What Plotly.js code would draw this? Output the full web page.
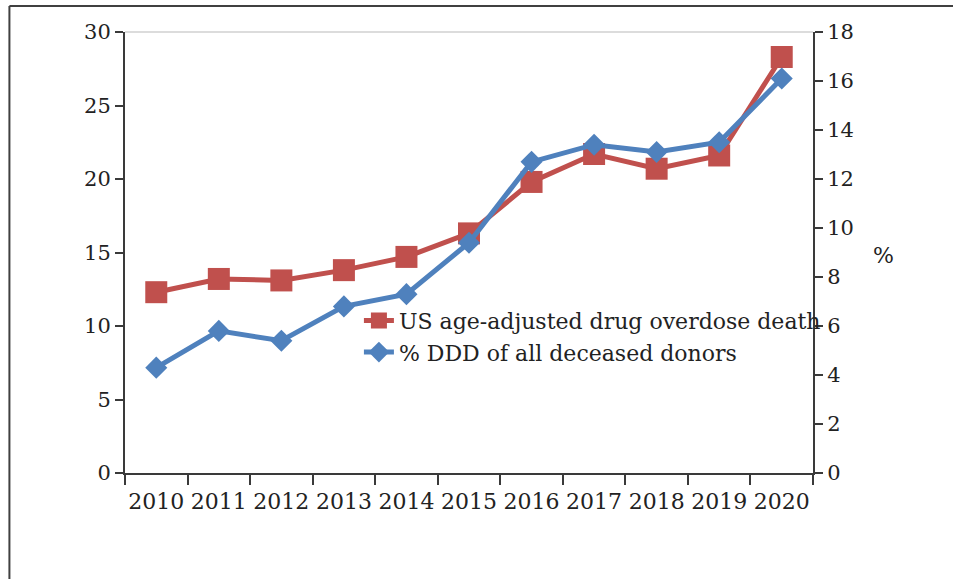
<!DOCTYPE html>
<html>
<head>
<meta charset="utf-8">
<script src="https://cdn.plot.ly/plotly-3.0.1.min.js"></script>
<style>
  html, body { margin: 0; padding: 0; background: #fff; }
  #chart { width: 953px; height: 579px; }
</style>
</head>
<body>
<div id="chart"></div>
<script>
// Years on the category axis
const years = ['2010', '2011', '2012', '2013', '2014', '2015', '2016', '2017', '2018', '2019', '2020'];

// US age-adjusted drug overdose death rate (per 100,000), left axis
const overdoseRate = [12.3, 13.2, 13.1, 13.8, 14.7, 16.3, 19.8, 21.7, 20.7, 21.6, 28.3];

// Share of drug-overdose-death donors among all deceased donors (%), right axis
const dddShare = [4.3, 5.8, 5.4, 6.8, 7.3, 9.4, 12.7, 13.4, 13.1, 13.5, 16.1];

const leftTicks = [0, 5, 10, 15, 20, 25, 30];
const rightTicks = [0, 2, 4, 6, 8, 10, 12, 14, 16, 18];

const serif = 'DejaVu Serif, Liberation Serif, serif';
const axisColor = '#3a3a3a';
const textColor = '#222222';

const traces = [
  {
    x: years,
    y: overdoseRate,
    name: 'US age-adjusted drug overdose death',
    type: 'scatter',
    mode: 'lines+markers',
    line: { color: '#C0504D', width: 5 },
    marker: { symbol: 'square', size: 22, color: '#C0504D' },
    yaxis: 'y'
  },
  {
    x: years,
    y: dddShare,
    name: '% DDD of all deceased donors',
    type: 'scatter',
    mode: 'lines+markers',
    line: { color: '#4F81BD', width: 5 },
    marker: { symbol: 'diamond', size: 17, color: '#4F81BD' },
    yaxis: 'y2'
  }
];

const layout = {
  width: 953,
  height: 579,
  margin: { l: 125, r: 140, t: 32, b: 106 },
  paper_bgcolor: '#ffffff',
  plot_bgcolor: '#ffffff',
  font: { family: serif, size: 21, color: textColor },
  showlegend: true,
  legend: {
    x: 0.34, xanchor: 'left',
    y: 0.393, yanchor: 'top',
    bgcolor: 'rgba(0,0,0,0)',
    font: { family: serif, size: 22, color: textColor },
    itemwidth: 30,
    tracegroupgap: 0
  },
  xaxis: {
    type: 'category',
    categoryarray: years,
    range: [-0.5, 10.5],
    tickson: 'boundaries',
    tickangle: 0,
    ticks: 'outside',
    ticklen: 10,
    tickwidth: 2,
    tickcolor: axisColor,
    ticklabelstandoff: 8,
    showline: true,
    linecolor: axisColor,
    linewidth: 2,
    showgrid: false,
    zeroline: false,
    tickfont: { family: serif, size: 22, color: textColor },
    fixedrange: true
  },
  yaxis: {
    range: [0, 30],
    tickvals: leftTicks,
    ticks: 'outside',
    ticklen: 8,
    tickwidth: 2,
    tickcolor: axisColor,
    showline: true,
    linecolor: axisColor,
    linewidth: 2,
    showgrid: false,
    zeroline: false,
    tickfont: { family: serif, size: 21, color: textColor },
    fixedrange: true
  },
  yaxis2: {
    overlaying: 'y',
    side: 'right',
    range: [0, 18],
    tickvals: rightTicks,
    ticks: 'outside',
    ticklen: 8,
    tickwidth: 2,
    tickcolor: axisColor,
    showline: true,
    linecolor: axisColor,
    linewidth: 2,
    showgrid: false,
    zeroline: false,
    tickfont: { family: serif, size: 21, color: textColor },
    fixedrange: true
  },
  annotations: [
    {
      text: '%',
      xref: 'paper', yref: 'paper',
      x: 1.102, y: 0.494,
      xanchor: 'center', yanchor: 'middle',
      showarrow: false,
      font: { family: serif, size: 22, color: textColor }
    }
  ],
  shapes: [
    // light rule along the top of the plot area
    { type: 'line', xref: 'paper', yref: 'paper', x0: 0, x1: 1, y0: 1, y1: 1,
      line: { color: '#d0d0d0', width: 1.5 }, layer: 'below' },
    // outer frame: top edge and left edge
    { type: 'line', xref: 'paper', yref: 'paper', x0: -0.168, x1: 1.22, y0: 1.059, y1: 1.059,
      line: { color: '#404040', width: 2 } },
    { type: 'line', xref: 'paper', yref: 'paper', x0: -0.168, x1: -0.168, y0: 1.059, y1: -0.26,
      line: { color: '#404040', width: 2 } }
  ]
};

Plotly.newPlot('chart', traces, layout, { displayModeBar: false, staticPlot: true });
</script>
</body>
</html>
